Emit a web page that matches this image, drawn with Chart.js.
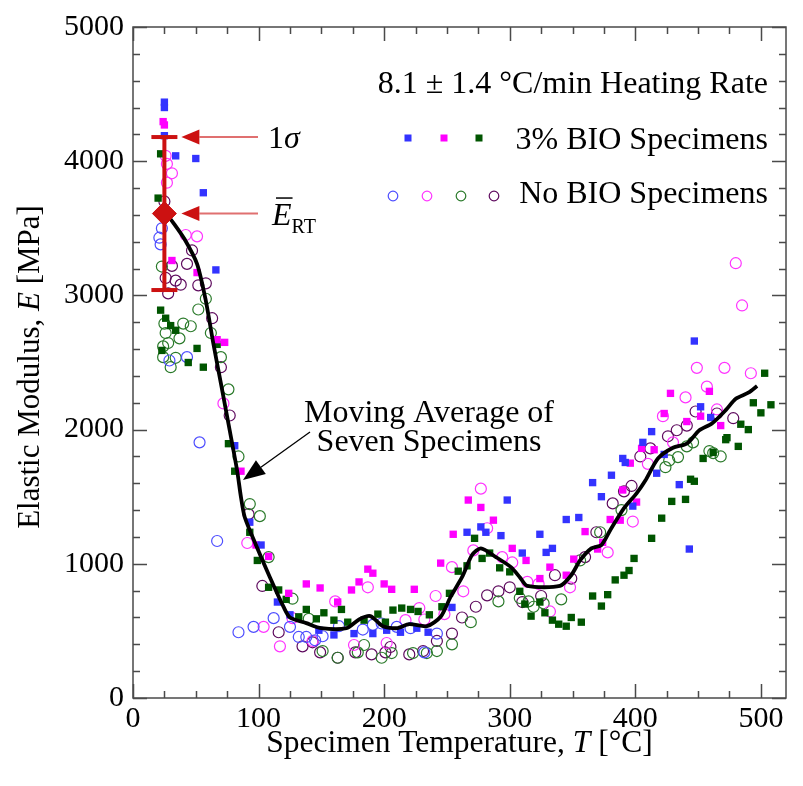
<!DOCTYPE html>
<html><head><meta charset="utf-8">
<script src="https://cdn.jsdelivr.net/npm/chart.js@4.4.1/dist/chart.umd.min.js"></script>
<style>html,body{margin:0;padding:0;background:#fff}canvas{display:block}</style>
</head><body>
<canvas id="c" width="803" height="786"></canvas>
<script>
// ---- data (T [°C], E [MPa]) ----
const bio3Blue = [[25,4440],[25,4400],[25,4190],[34,4040],[50,4020],[56,3765],[66,3190],[81,1880],[93,1310],[102,1140],[115,715],[125,620],[148,505],[160,470],[176,480],[191,480],[202,505],[213,490],[226,520],[235,490],[254,675],[266,1235],[277,1275],[281,1235],[293,1210],[298,1475],[310,1080],[324,1220],[329,1085],[334,1115],[345,1330],[355,1345],[366,1605],[373,1500],[381,1660],[390,1785],[392,1755],[398,1430],[406,1905],[413,1985],[417,1675],[423,1815],[435,1590],[443,1110],[447,2660],[452,2170],[460,2090]];
const bio3Magenta = [[24,4295],[25,4270],[31,3260],[51,3170],[67,2670],[73,2650],[86,1690],[98,1140],[108,1055],[124,780],[138,850],[149,820],[163,715],[174,805],[180,865],[187,960],[191,930],[200,850],[206,810],[224,810],[245,1005],[255,1220],[267,1475],[277,1420],[287,1325],[302,1115],[313,1025],[324,890],[332,975],[345,915],[351,1035],[360,1240],[370,1110],[374,1160],[380,1330],[388,1325],[390,1550],[396,1750],[401,1460],[405,1860],[415,1850],[423,2120],[428,2270],[441,2060],[452,2100],[459,2285],[468,2030]];
const bio3Green = [[22,4055],[20,3725],[22,2890],[26,2830],[30,2775],[34,2740],[23,2590],[44,2500],[51,2605],[56,2465],[67,2635],[76,1895],[81,1690],[93,1235],[99,1025],[108,825],[116,805],[122,735],[132,605],[138,660],[146,590],[152,635],[160,580],[166,660],[171,565],[184,580],[195,625],[201,565],[207,655],[214,670],[221,660],[227,645],[236,620],[246,680],[252,780],[259,945],[266,985],[272,1190],[278,1040],[284,1080],[292,970],[300,940],[308,795],[312,700],[317,610],[324,715],[328,635],[334,580],[339,550],[345,535],[349,600],[357,565],[366,760],[373,685],[378,770],[384,880],[391,915],[395,950],[399,1040],[413,1190],[421,1340],[429,1465],[440,1480],[444,1630],[447,1615],[454,1785],[462,1830],[472,1925],[473,1940],[482,1875],[484,2040],[490,2000],[494,2200],[500,2125],[503,2420],[508,2185]];
const noBioBlue = [[23,3500],[21,3430],[22,3380],[29,2515],[43,2540],[53,1905],[67,1170],[84,490],[96,530],[112,595],[125,530],[132,455],[138,455],[145,430],[151,460],[164,535],[183,510],[191,545],[198,555],[210,530],[221,520],[232,340],[242,480]];
const noBioMagenta = [[26,4040],[27,3980],[31,3910],[27,3840],[42,3450],[51,3440],[72,2195],[91,1155],[104,530],[117,385],[127,595],[143,425],[161,720],[176,395],[187,825],[202,410],[217,580],[228,670],[232,585],[241,760],[248,625],[254,975],[263,795],[271,1100],[277,1560],[282,1265],[294,1050],[302,1010],[314,865],[323,850],[332,645],[348,825],[378,1085],[398,1315],[410,1745],[422,2100],[430,1905],[440,2240],[449,2460],[457,2320],[465,2150],[471,2460],[480,3240],[485,2925],[492,2420]];
const noBioGreen = [[23,3215],[58,2975],[52,2895],[25,2790],[26,2720],[40,2790],[46,2770],[37,2680],[24,2620],[28,2645],[24,2540],[34,2535],[30,2465],[62,2720],[70,2540],[76,2300],[84,1800],[93,1445],[101,1355],[108,1050],[127,740],[140,590],[151,350],[163,300],[179,340],[184,395],[198,300],[206,335],[223,335],[234,335],[242,350],[254,400],[269,565],[291,720],[308,745],[315,720],[319,680],[327,705],[341,735],[356,1025],[372,1235],[389,1400],[424,1720],[427,1770],[434,1795],[441,1875],[446,1905],[459,1840],[462,1825],[468,1800]];
const noBioPurple = [[25,3700],[31,3220],[43,3235],[47,3335],[26,3130],[34,3110],[38,3080],[28,3015],[52,3075],[58,3090],[63,2830],[70,2465],[77,2105],[92,1370],[103,835],[116,490],[135,385],[143,415],[149,340],[163,300],[177,340],[190,325],[201,340],[205,380],[220,325],[231,350],[242,425],[254,480],[262,600],[273,680],[282,765],[291,795],[300,825],[310,715],[325,760],[336,915],[349,890],[360,1050],[369,1235],[382,1450],[391,1540],[397,1580],[404,1800],[412,1860],[426,1950],[433,1995],[441,2030],[448,2135],[465,2120],[478,2085]];
const movingAvg = [[26,3615],[33,3530],[41,3420],[51,3235],[58,2960],[64,2640],[70,2345],[77,1995],[83,1690],[86,1495],[89,1347],[98,1138],[109,900],[120,677],[125,600],[138,558],[150,520],[170,520],[180,585],[189,610],[199,535],[210,520],[220,550],[234,535],[245,605],[253,755],[262,900],[270,1065],[277,1115],[289,1050],[301,975],[308,900],[314,835],[340,835],[349,915],[356,1025],[365,1115],[373,1140],[380,1250],[391,1415],[401,1525],[408,1620],[418,1785],[430,1865],[441,1895],[451,1995],[461,2045],[472,2145],[480,2230],[490,2275],[497,2325]];
const roomTemp = 25;
const meanE_RT = 3610;
const sigmaE_RT = 570;
const xTicks = [0,100,200,300,400,500];
const yTicks = [0,1000,2000,3000,4000,5000];

const SERIF = '"Liberation Serif","Times New Roman",serif';
const pts = a => a.map(p => ({x:p[0], y:p[1]}));

function sq(data, color){ return {type:'scatter', data:pts(data), pointStyle:'rect', pointRadius:5.2, pointBackgroundColor:color, pointBorderColor:color, pointBorderWidth:0, order:2}; }
function circ(data, color){ return {type:'scatter', data:pts(data), pointStyle:'circle', pointRadius:5.5, pointBackgroundColor:'rgba(0,0,0,0)', pointBorderColor:color, pointBorderWidth:1.2, order:3}; }

const C = {bBlue:'#3333ff', bMag:'#ff00ff', bGreen:'#005500', nBlue:'#4d4dff', nMag:'#ff33ff', nGreen:'#2a7a2a', nPurple:'#5e0a5e', red:'#cc1111'};

function drawSegs(ctx, segs, x, y, align){
  let w = 0;
  segs.forEach(s => { ctx.font = s.f; w += ctx.measureText(s.t).width; });
  let cx = align==='center' ? x - w/2 : align==='right' ? x - w : x;
  const res = [];
  segs.forEach(s => { ctx.font = s.f; ctx.textAlign='left'; ctx.fillText(s.t, cx, y + (s.dy||0)); const ww = ctx.measureText(s.t).width; res.push([cx, ww]); cx += ww; });
  return res;
}
function arrow(ctx, x1,y1,x2,y2, headL, headW, lineColor, headColor, lw){
  const ang = Math.atan2(y2-y1, x2-x1);
  const bx = x2 - Math.cos(ang)*headL, by = y2 - Math.sin(ang)*headL;
  ctx.strokeStyle=lineColor; ctx.lineWidth=lw;
  ctx.beginPath(); ctx.moveTo(x1,y1); ctx.lineTo(bx,by); ctx.stroke();
  ctx.fillStyle=headColor;
  ctx.beginPath(); ctx.moveTo(x2,y2);
  ctx.lineTo(bx + Math.sin(ang)*headW, by - Math.cos(ang)*headW);
  ctx.lineTo(bx - Math.sin(ang)*headW, by + Math.cos(ang)*headW);
  ctx.closePath(); ctx.fill();
}

const annot = {
  id:'annot',
  afterDraw(chart){
    const {ctx, chartArea:a, scales:{x, y}} = chart;
    ctx.save();
    // frame + inward ticks on all four sides
    ctx.strokeStyle='#4a4a4a'; ctx.lineWidth=1.5;
    ctx.strokeRect(a.left, a.top, a.right-a.left, a.bottom-a.top);
    ctx.beginPath();
    for (let v=0; v<=x.max; v+=25){
      const px = Math.round(x.getPixelForValue(v))+0.5; const L = v%100===0?14:7;
      ctx.moveTo(px,a.bottom); ctx.lineTo(px,a.bottom-L);
      ctx.moveTo(px,a.top); ctx.lineTo(px,a.top+L);
    }
    for (let v=0; v<=y.max; v+=200){
      const py = Math.round(y.getPixelForValue(v))+0.5; const L = v%1000===0?14:7;
      ctx.moveTo(a.left,py); ctx.lineTo(a.left+L,py);
      ctx.moveTo(a.right,py); ctx.lineTo(a.right-L,py);
    }
    ctx.stroke();

    ctx.fillStyle='#000'; ctx.textBaseline='alphabetic';
    const F = s => s+'px '+SERIF, FI = s => 'italic '+s+'px '+SERIF;
    // axis titles
    drawSegs(ctx, [{t:'Specimen Temperature, ',f:F(31.5)},{t:'T',f:FI(31.5)},{t:' [°C]',f:F(31.5)}], (a.left+a.right)/2, 752, 'center');
    ctx.save(); ctx.translate(39, 367); ctx.rotate(-Math.PI/2);
    drawSegs(ctx, [{t:'Elastic Modulus, ',f:F(31)},{t:'E',f:FI(31)},{t:' [MPa]',f:F(31)}], 0, 0, 'center');
    ctx.restore();

    // legend block
    ctx.font = F(32); ctx.textAlign='right';
    ctx.fillText('8.1 ± 1.4 °C/min Heating Rate', 768, 93);
    ctx.fillText('3% BIO Specimens', 768, 149);
    ctx.fillText('No BIO Specimens', 768, 203);
    [[408,C.bBlue],[444,C.bMag],[479,C.bGreen]].forEach(([lx,c]) => { ctx.fillStyle=c; ctx.fillRect(lx-3.5, 134.5, 7, 7); });
    [[393,C.nBlue],[427,C.nMag],[461,C.nGreen],[494,C.nPurple]].forEach(([lx,c]) => { ctx.strokeStyle=c; ctx.lineWidth=1.2; ctx.beginPath(); ctx.arc(lx,196,4.8,0,Math.PI*2); ctx.stroke(); });

    // 1 sigma and mean annotations
    const xr = x.getPixelForValue(roomTemp);
    const ySig = y.getPixelForValue(meanE_RT + sigmaE_RT);
    const yMean = y.getPixelForValue(meanE_RT);
    arrow(ctx, 258, ySig, xr+17, ySig, 18, 7.5, '#e07070', C.red, 2);
    arrow(ctx, 258, yMean, xr+17, yMean, 18, 7.5, '#e07070', C.red, 2);
    ctx.fillStyle='#000';
    drawSegs(ctx, [{t:'1',f:F(32)},{t:'σ',f:FI(32)}], 268, ySig+11, 'left');
    const r = drawSegs(ctx, [{t:'E',f:FI(32)},{t:'RT',f:F(20),dy:8}], 272, yMean+11, 'left');
    ctx.strokeStyle='#000'; ctx.lineWidth=1.5;
    ctx.beginPath(); ctx.moveTo(r[0][0]+4, yMean-15.5); ctx.lineTo(r[0][0]+r[0][1]+1, yMean-15.5); ctx.stroke();

    // moving average label
    ctx.fillStyle='#000'; ctx.font=F(32); ctx.textAlign='center';
    ctx.fillText('Moving Average of', 429, 422);
    ctx.fillText('Seven Specimens', 429, 451);
    arrow(ctx, 310, 432, 243, 480, 22, 8.5, '#000', '#000', 1.3);
    ctx.restore();
  }
};

const chart = new Chart(document.getElementById('c'), {
  data:{ datasets:[
    circ(noBioBlue, C.nBlue), circ(noBioMagenta, C.nMag), circ(noBioGreen, C.nGreen), circ(noBioPurple, C.nPurple),
    sq(bio3Blue, C.bBlue), sq(bio3Magenta, C.bMag), sq(bio3Green, C.bGreen),
    {type:'line', data:pts(movingAvg), borderColor:'#000', borderWidth:3.8, pointRadius:0, tension:0.25, fill:false, order:1},
    {type:'line', data:[{x:roomTemp,y:meanE_RT+sigmaE_RT},{x:roomTemp,y:meanE_RT-sigmaE_RT}], borderColor:C.red, borderWidth:4, pointStyle:'line', pointRadius:13, pointBorderWidth:4, pointBorderColor:C.red, order:0},
    {type:'scatter', data:[{x:roomTemp,y:meanE_RT}], pointStyle:'rectRot', pointRadius:12, pointBackgroundColor:C.red, pointBorderColor:C.red, order:-1}
  ]},
  options:{
    responsive:false, animation:false, events:[],
    layout:{padding:{top:26, right:4, left:0, bottom:0}},
    plugins:{legend:{display:false}, tooltip:{enabled:false}},
    scales:{
      x:{type:'linear', min:0, max:520, grid:{display:false, drawTicks:false}, border:{display:false},
         afterBuildTicks: s => { s.ticks = xTicks.map(v => ({value:v})); },
         afterFit: s => { s.height = 88; },
         ticks:{font:{family:SERIF, size:30}, color:'#000', padding:3, maxRotation:0, autoSkip:false, callback: v => String(v)}},
      y:{type:'linear', min:0, max:5000, grid:{display:false, drawTicks:false}, border:{display:false},
         afterBuildTicks: s => { s.ticks = yTicks.map(v => ({value:v})); },
         afterFit: s => { s.width = 133; },
         ticks:{font:{family:SERIF, size:30}, color:'#000', padding:9, autoSkip:false, callback: v => String(v)}}
    }
  },
  plugins:[annot]
});
</script>
</body></html>
